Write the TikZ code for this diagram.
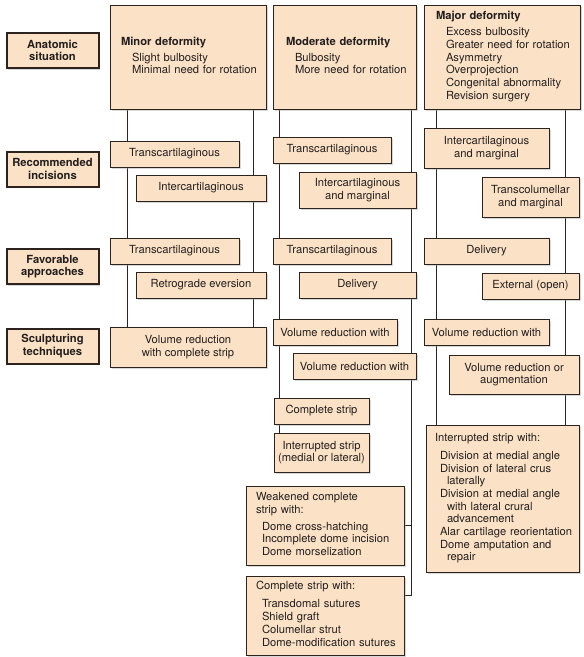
\documentclass[tikz,border=0pt]{standalone}
\usepackage{fontspec}
\setmainfont{TeX Gyre Heros}
\usetikzlibrary{shadows, backgrounds}

\definecolor{peach}{RGB}{251,226,198}
\definecolor{edge}{RGB}{45,35,30}
\definecolor{ink}{RGB}{35,30,30}
\newcommand{\cellfont}{\fontsize{11.2}{12.7}\selectfont}

\begin{document}
\begin{tikzpicture}[x=1pt, y=-1pt,
    cell/.style={rectangle, draw=edge, line width=0.7pt, fill=peach, text=ink,
                 inner sep=0pt, outer sep=0pt, align=center, font=\cellfont,
                 drop shadow={shadow xshift=1.6pt, shadow yshift=-1.6pt,
                              fill=black!35, opacity=0.45}},
    rowlabel/.style={cell, line width=2pt, minimum width=92pt,
                     minimum height=35pt, font=\cellfont\bfseries},
    listbox/.style={cell, align=left},
    link/.style={draw=edge, line width=0.7pt}
  ]
    \useasboundingbox (0,0) rectangle (584,657);

    % Column guide positions
    \coordinate (c1l) at (127,0);
    \coordinate (c1r) at (253,0);
    \coordinate (c2l) at (279,0);
    \coordinate (c2r) at (411,0);
    \coordinate (c3l) at (436,0);
    \coordinate (c3r) at (565,0);

    % Row labels
    \node[rowlabel] (lbanat) at (52.5,50.5) {Anatomic\\situation};
    \node[rowlabel] (lbinc) at (52.5,169) {Recommended\\incisions};
    \node[rowlabel] (lbapp) at (52.5,266.5) {Favorable\\approaches};
    \node[rowlabel] (lbtec) at (52.5,346) {Sculpturing\\techniques};

    % Anatomic situation
    \node[listbox, text width=156pt, minimum height=104pt] (hdmin) at (188,57)
      {\hspace*{11pt}\begin{tabular}{@{}l@{}}
         \textbf{Minor deformity}\\[3.3pt]
         \hspace*{11pt}Slight bulbosity\\
         \hspace*{11pt}Minimal need for rotation
       \end{tabular}};
    \node[listbox, text width=143pt, minimum height=104pt] (hdmod) at (344.5,57)
      {\hspace*{13pt}\begin{tabular}{@{}l@{}}
         \textbf{Moderate deformity}\\[3.3pt]
         \hspace*{9pt}Bulbosity\\
         \hspace*{9pt}More need for rotation
       \end{tabular}};
    \node[listbox, text width=156pt, minimum height=104pt] (hdmaj) at (502,57)
      {\hspace*{12pt}\begin{tabular}{@{}l@{}}
         \textbf{Major deformity}\\[3.3pt]
         \hspace*{10pt}Excess bulbosity\\
         \hspace*{10pt}Greater need for rotation\\
         \hspace*{10pt}Asymmetry\\
         \hspace*{10pt}Overprojection\\
         \hspace*{10pt}Congenital abnormality\\
         \hspace*{10pt}Revision surgery
       \end{tabular}};

    % Minor deformity
    \node[cell, minimum width=129pt, minimum height=26pt] (inc1a) at (174.5,154) {Transcartilaginous};
    \node[cell, minimum width=130pt, minimum height=26pt] (inc1b) at (201,188) {Intercartilaginous};
    \node[cell, minimum width=129pt, minimum height=26pt] (app1a) at (174.5,251) {Transcartilaginous};
    \node[cell, minimum width=130pt, minimum height=26pt] (app1b) at (201,285) {Retrograde eversion};
    \node[cell, minimum width=156pt, minimum height=40pt] (tec1) at (188,347) {Volume reduction\\with complete strip};

    % Moderate deformity
    \node[cell, minimum width=118pt, minimum height=26pt] (inc2a) at (332,150) {Transcartilaginous};
    \node[cell, minimum width=117pt, minimum height=36pt] (inc2b) at (357.5,190) {Intercartilaginous\\and marginal};
    \node[cell, minimum width=118pt, minimum height=26pt] (app2a) at (332,251) {Transcartilaginous};
    \node[cell, minimum width=117pt, minimum height=26pt] (app2b) at (357.5,285) {Delivery};
    \node[cell, minimum width=124pt, minimum height=26pt] (tec2a) at (335,332) {Volume reduction with};
    \node[cell, minimum width=123pt, minimum height=26pt] (tec2b) at (354.5,366) {Volume reduction with};
    \node[cell, minimum width=95pt, minimum height=26pt] (tec2c) at (321.5,411) {Complete strip};
    \node[cell, minimum width=95pt, minimum height=39pt] (tec2d) at (321.5,452.5) {Interrupted strip\\(medial or lateral)};
    \node[listbox, text width=158pt, minimum height=79pt] (tec2e) at (325,525.5)
      {\hspace*{10pt}\begin{tabular}{@{}l@{}}
         Weakened complete\\
         strip with:\\[4.3pt]
         \hspace*{6pt}Dome cross-hatching\\
         \hspace*{6pt}Incomplete dome incision\\
         \hspace*{6pt}Dome morselization
       \end{tabular}};
    \node[listbox, text width=158pt, minimum height=79pt] (tec2f) at (325,615.5)
      {\hspace*{10pt}\begin{tabular}{@{}l@{}}
         Complete strip with:\\[5.3pt]
         \hspace*{6pt}Transdomal sutures\\
         \hspace*{6pt}Shield graft\\
         \hspace*{6pt}Columellar strut\\
         \hspace*{6pt}Dome-modification sutures
       \end{tabular}};

    % Major deformity
    \node[cell, minimum width=125pt, minimum height=40pt] (inc3a) at (486.5,148) {Intercartilaginous\\and marginal};
    \node[cell, minimum width=97pt, minimum height=40pt] (inc3b) at (530.5,197) {Transcolumellar\\and marginal};
    \node[cell, minimum width=125pt, minimum height=26pt] (app3a) at (486.5,251) {Delivery};
    \node[cell, minimum width=97pt, minimum height=26pt] (app3b) at (530.5,286) {External (open)};
    \node[cell, minimum width=125pt, minimum height=26pt] (tec3a) at (486.5,332) {Volume reduction with};
    \node[cell, minimum width=130pt, minimum height=39pt] (tec3b) at (514,374.5) {Volume reduction or\\augmentation};
    \node[listbox, text width=153pt, minimum height=147pt] (tec3c) at (502.5,498.5)
      {\hspace*{9pt}\begin{tabular}{@{}l@{}}
         Interrupted strip with:\\[5.5pt]
         \hspace*{5pt}Division at medial angle\\
         \hspace*{5pt}Division of lateral crus\\
         \hspace*{12pt}laterally\\
         \hspace*{5pt}Division at medial angle\\
         \hspace*{12pt}with lateral crural\\
         \hspace*{12pt}advancement\\
         \hspace*{5pt}Alar cartilage reorientation\\
         \hspace*{5pt}Dome amputation and\\
         \hspace*{12pt}repair
       \end{tabular}};

    % Guide lines behind the boxes
    \begin{scope}[on background layer]
      \draw[link] (hdmin.south -| c1l) -- (tec1.north -| c1l);
      \draw[link] (hdmin.south -| c1r) -- (tec1.north -| c1r);
      \draw[link] (hdmod.south -| c2l) -- (tec2d.north -| c2l);
      \draw[link] (hdmod.south -| c2r) |- ([yshift=20pt]tec2f.east);
      \draw[link] (tec2e.east) -- (tec2e.east -| c2r);
      \draw[link] (hdmaj.south -| c3l) -- (tec3c.north -| c3l);
      \draw[link] (hdmaj.south -| c3r) -- (tec3c.north -| c3r);
    \end{scope}

\end{tikzpicture}
\end{document}
